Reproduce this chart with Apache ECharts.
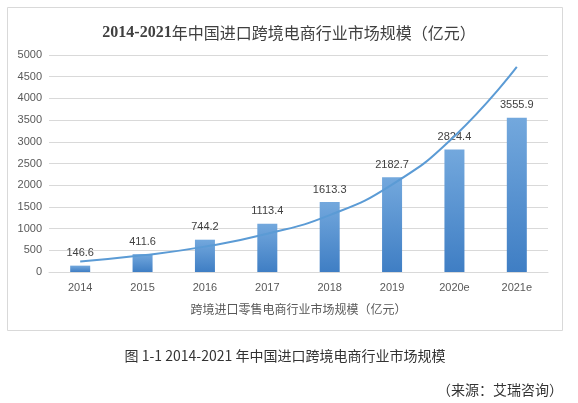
<!DOCTYPE html>
<html>
<head>
<meta charset="utf-8">
<style>html,body{margin:0;padding:0;background:#fff;}#c{width:578px;height:403px;}</style>
<script src="https://cdn.jsdelivr.net/npm/echarts@6/dist/echarts.min.js"></script>
</head>
<body>
<div id="c"></div>
<script>
var categories = ['2014','2015','2016','2017','2018','2019','2020e','2021e'];
var marketSize = [146.6, 411.6, 744.2, 1113.4, 1613.3, 2182.7, 2824.4, 3555.9];
var trendValues = [244, 385, 585, 880, 1310, 2015, 3130, 4725];
var yTicks = {min: 0, max: 5000, interval: 500};
var titleYears = '2014-2021';
var titleRest = '年中国进口跨境电商行业市场规模（亿元）';
var axisNameText = '跨境进口零售电商行业市场规模（亿元）';
var captionText = '图 1-1 2014-2021 年中国进口跨境电商行业市场规模';
var sourceText = '（来源：艾瑞咨询）';

var chart = echarts.init(document.getElementById('c'), null, {renderer: 'canvas'});
var cjk = '"Liberation Sans", "Noto Sans CJK SC", sans-serif';
chart.setOption({
  animation: false,
  backgroundColor: '#fff',
  title: {
    text: '{a|' + titleYears + '}{b|' + titleRest + '}',
    left: 'center', top: 20,
    textStyle: {
      rich: {
        a: {fontFamily: '"Liberation Serif", serif', fontWeight: 'bold', fontSize: 16, color: '#404040'},
        b: {fontFamily: '"Noto Sans CJK SC", serif', fontWeight: 'normal', fontSize: 16, color: '#404040'}
      }
    }
  },
  graphic: [
    {type: 'rect', shape: {x: 7.5, y: 7.5, width: 555, height: 323}, style: {fill: 'none', stroke: '#d9d9d9', lineWidth: 1}, z: -1},
    {type: 'text', x: 285, y: 356, style: {text: captionText, font: '14px "Noto Sans CJK SC", sans-serif', fill: '#333', align: 'center', verticalAlign: 'middle'}},
    {type: 'text', x: 563, y: 390, style: {text: sourceText, font: '14px "Noto Sans CJK SC", sans-serif', fill: '#333', align: 'right', verticalAlign: 'middle'}}
  ],
  grid: {left: 49, right: 30, top: 55, bottom: 131, containLabel: false},
  xAxis: {
    type: 'category',
    data: categories,
    axisLine: {lineStyle: {color: '#d9d9d9'}},
    axisTick: {show: false},
    axisLabel: {color: '#595959', fontSize: 11, margin: 10, fontFamily: cjk},
    name: axisNameText,
    nameLocation: 'middle',
    nameGap: 33,
    nameTextStyle: {color: '#595959', fontSize: 12, fontFamily: cjk}
  },
  yAxis: {
    type: 'value',
    min: yTicks.min, max: yTicks.max, interval: yTicks.interval,
    axisLine: {show: false},
    axisTick: {show: false},
    axisLabel: {color: '#595959', fontSize: 11, margin: 7, fontFamily: cjk, formatter: function (v) { return String(v); }},
    splitLine: {lineStyle: {color: '#d9d9d9'}}
  },
  series: [
    {
      type: 'bar',
      data: marketSize,
      barWidth: 20,
      itemStyle: {
        color: new echarts.graphic.LinearGradient(0, 0, 0, 1, [
          {offset: 0, color: '#73a8dd'},
          {offset: 1, color: '#3f7ec4'}
        ])
      },
      label: {show: true, position: 'top', distance: 7, color: '#404040', fontSize: 11, fontFamily: cjk}
    },
    {
      type: 'line',
      data: trendValues,
      smooth: true,
      symbol: 'none',
      lineStyle: {color: '#5b9bd5', width: 2},
      z: 5
    }
  ]
});
</script>
</body>
</html>
